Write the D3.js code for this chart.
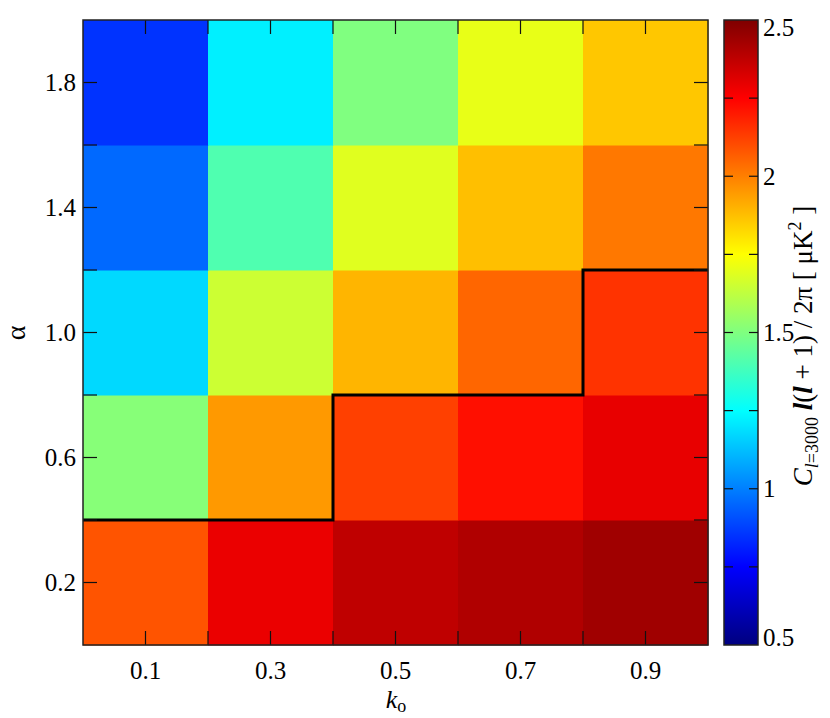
<!DOCTYPE html>
<meta charset="utf-8">
<script src="https://d3js.org/d3.v7.min.js"></script>
<style>
  body { margin: 0; background: #fff; }
</style>
<div id="chart"></div>
<script>
// grid values
const kValues = [0.1, 0.3, 0.5, 0.7, 0.9]
const alphaValues = [0.2, 0.6, 1.0, 1.4, 1.8]
// one row per alpha, columns follow kValues
const rowA02 = [2.085, 2.29, 2.375, 2.405, 2.435]
const rowA06 = [1.515, 1.95, 2.125, 2.22, 2.295]
const rowA10 = [1.175, 1.65, 1.895, 2.05, 2.15]
const rowA14 = [0.955, 1.405, 1.69, 1.875, 2.015]
const rowA18 = [0.85, 1.22, 1.5, 1.705, 1.86]
const rows = [rowA02, rowA06, rowA10, rowA14, rowA18]

const xTickLabels = ["0.1", "0.3", "0.5", "0.7", "0.9"]
const yTickLabels = ["0.2", "0.6", "1.0", "1.4", "1.8"]
const cbTicks = [0.5, 1, 1.5, 2, 2.5]
const cbTickLabels = ["0.5", "1", "1.5", "2", "2.5"]

// the black boundary line (k, alpha)
const boundaryK = [0, 0.4, 0.4, 0.8, 0.8, 1.0]
const boundaryA = [0.4, 0.4, 0.8, 0.8, 1.2, 1.2]

const W = 830, H = 718
const plot = {left: 83, right: 708, top: 20, bottom: 645}
const bar = {left: 724, right: 758}
const serif = "'Liberation Serif', 'Times New Roman', serif"

const svg = d3.select("#chart").append("svg")
    .attr("width", W)
    .attr("height", H)
    .attr("font-family", serif)

const x = d3.scaleLinear().domain([0, 1]).range([plot.left, plot.right])
const y = d3.scaleLinear().domain([0, 2]).range([plot.bottom, plot.top])

// jet colour map over 0.5 .. 2.5
const jetStops = ["#00007f", "#0000ff", "#00ffff", "#ffff00", "#ff0000", "#7f0000"]
const jetPos = [0, 0.125, 0.375, 0.625, 0.875, 1]
const color = d3.scaleLinear()
    .domain(jetPos.map(t => 0.5 + 2 * t))
    .range(jetStops)
    .clamp(true)

const cells = []
rows.forEach((row, i) => row.forEach((v, j) =>
    cells.push({k: kValues[j], a: alphaValues[i], v: v})))

const dk = 0.2, da = 0.4
svg.append("g").selectAll("rect")
  .data(cells)
  .join("rect")
    .attr("x", d => x(d.k - dk / 2))
    .attr("y", d => y(d.a + da / 2))
    .attr("width", x(dk) - x(0) + 0.5)
    .attr("height", y(0) - y(da) + 0.5)
    .attr("fill", d => color(d.v))

// boundary
const line = d3.line().x(d => x(d[0])).y(d => y(d[1]))
svg.append("path")
    .attr("d", line(boundaryK.map((k, i) => [k, boundaryA[i]])))
    .attr("fill", "none")
    .attr("stroke", "#000")
    .attr("stroke-width", 3)

// ticks on all four sides, pointing in
const tickLen = 14
const xt = d3.range(1, 10).map(i => i / 10)
const yt = d3.range(1, 10).map(i => i / 5)
const ticks = svg.append("g").attr("stroke", "#111").attr("stroke-width", 1.2)
xt.forEach(t => {
  ticks.append("line").attr("x1", x(t)).attr("x2", x(t)).attr("y1", plot.bottom).attr("y2", plot.bottom - tickLen)
  ticks.append("line").attr("x1", x(t)).attr("x2", x(t)).attr("y1", plot.top).attr("y2", plot.top + tickLen)
})
yt.forEach(t => {
  ticks.append("line").attr("y1", y(t)).attr("y2", y(t)).attr("x1", plot.left).attr("x2", plot.left + tickLen)
  ticks.append("line").attr("y1", y(t)).attr("y2", y(t)).attr("x1", plot.right).attr("x2", plot.right - tickLen)
})

svg.append("rect")
    .attr("x", plot.left).attr("y", plot.top)
    .attr("width", plot.right - plot.left).attr("height", plot.bottom - plot.top)
    .attr("fill", "none").attr("stroke", "#222").attr("stroke-width", 1.5)

// tick labels
svg.append("g").selectAll("text")
  .data(kValues)
  .join("text")
    .attr("font-family", serif)
    .attr("x", d => x(d))
    .attr("y", 679)
    .attr("text-anchor", "middle")
    .attr("font-size", 25)
    .text((d, i) => xTickLabels[i])

svg.append("g").selectAll("text")
  .data(alphaValues)
  .join("text")
    .attr("font-family", serif)
    .attr("x", 76)
    .attr("y", d => y(d))
    .attr("dy", "0.33em")
    .attr("text-anchor", "end")
    .attr("font-size", 25)
    .text((d, i) => yTickLabels[i])

// axis titles
const xl = svg.append("text")
    .attr("font-family", serif)
    .attr("x", 396).attr("y", 708)
    .attr("text-anchor", "middle")
    .attr("font-size", 26)
xl.append("tspan").attr("font-style", "italic").text("k")
xl.append("tspan").attr("font-size", 18).attr("dy", 4).text("o")

svg.append("text")
    .attr("font-family", serif)
    .attr("transform", "translate(17,333) rotate(-90)")
    .attr("text-anchor", "middle")
    .attr("dy", "0.3em")
    .attr("font-size", 28)
    .text("α")

// colour bar
const cy = d3.scaleLinear().domain([0.5, 2.5]).range([plot.bottom, plot.top])
const grad = svg.append("defs").append("linearGradient")
    .attr("id", "jet")
    .attr("x1", 0).attr("y1", 1).attr("x2", 0).attr("y2", 0)
grad.selectAll("stop")
  .data(jetPos)
  .join("stop")
    .attr("offset", d => d)
    .attr("stop-color", (d, i) => jetStops[i])

svg.append("rect")
    .attr("x", bar.left).attr("y", plot.top)
    .attr("width", bar.right - bar.left).attr("height", plot.bottom - plot.top)
    .attr("fill", "url(#jet)")
    .attr("stroke", "#222").attr("stroke-width", 1.5)

const cbt = svg.append("g").attr("stroke", "#111").attr("stroke-width", 1.2)
d3.range(1, 8).map(i => 0.5 + i * 0.25).forEach(t => {
  cbt.append("line").attr("x1", bar.left).attr("x2", bar.left + 9).attr("y1", cy(t)).attr("y2", cy(t))
  cbt.append("line").attr("x1", bar.right).attr("x2", bar.right - 9).attr("y1", cy(t)).attr("y2", cy(t))
})

svg.append("g").selectAll("text")
  .data(cbTicks)
  .join("text")
    .attr("font-family", serif)
    .attr("x", 763)
    .attr("y", d => Math.min(Math.max(cy(d), 28), 638))
    .attr("dy", "0.33em")
    .attr("font-size", 25)
    .text((d, i) => cbTickLabels[i])

// colour bar title
const ct = svg.append("text")
    .attr("font-family", serif)
    .attr("transform", "translate(812,346) rotate(-90)")
    .attr("text-anchor", "middle")
    .attr("font-size", 27)
ct.append("tspan").attr("font-style", "italic").text("C")
ct.append("tspan").attr("font-size", 18).attr("dy", 6).attr("font-style", "italic").text("l")
ct.append("tspan").attr("font-size", 18).text("=3000")
ct.append("tspan").attr("dy", -6).text(" ")
ct.append("tspan").attr("font-style", "italic").attr("font-weight", "bold").text("l")
ct.append("tspan").text("(")
ct.append("tspan").attr("font-style", "italic").attr("font-weight", "bold").text("l")
ct.append("tspan").text(" + 1) / 2π [ μK")
ct.append("tspan").attr("font-size", 18).attr("dy", -11).text("2")
ct.append("tspan").attr("dy", 11).text(" ]")
</script>
